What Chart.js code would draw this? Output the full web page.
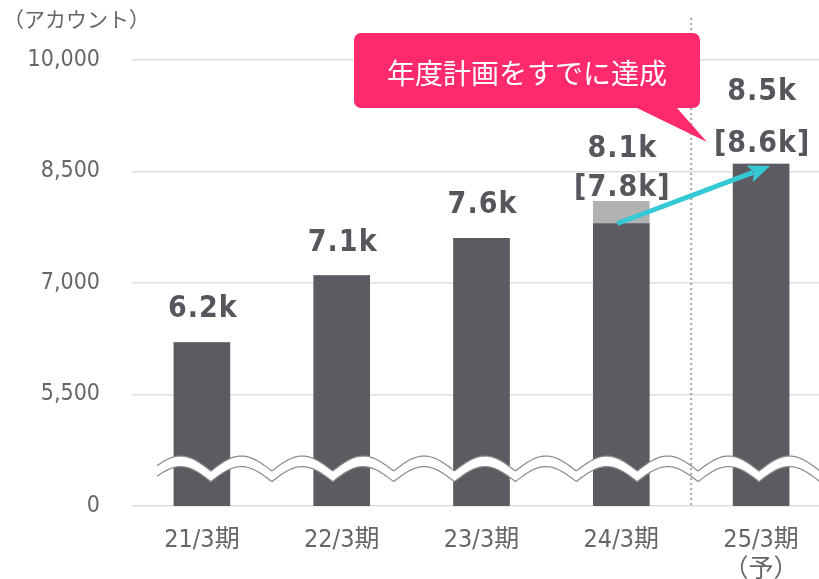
<!DOCTYPE html>
<html>
<head>
<meta charset="utf-8">
<script src="https://cdn.jsdelivr.net/npm/chart.js@4.4.0/dist/chart.umd.min.js"></script>
<style>
  html, body { margin: 0; padding: 0; background: #fff; overflow: hidden; }
  #wrap { width: 831px; height: 579px; }
</style>
</head>
<body>
<div id="wrap"><canvas id="chart"></canvas></div>
<script>
// data
var categories = [['21/3期'], ['22/3期'], ['23/3期'], ['24/3期'], ['25/3期', '（予）']];
var baseValues = [6200, 7100, 7600, 7800, 8600];
var extraValues = [0, 0, 0, 300, 0];
var topLabels = ['6.2k', '7.1k', '7.6k', '8.1k', '8.5k'];
var subLabels = [null, null, null, '[7.8k]', '[8.6k]'];
var yTicks = [4000, 5500, 7000, 8500, 10000];
var yTickLabels = ['0', '5,500', '7,000', '8,500', '10,000'];
var breakValue = 4500;

var NARROW = "'Liberation Sans Narrow', 'DejaVu Sans Condensed', 'Noto Sans CJK JP', sans-serif";
var JP = "'Noto Sans CJK JP', sans-serif";

var decorations = {
    id: 'decorations',
    afterDatasetsDraw: function (chart) {
        var ctx = chart.ctx, xs = chart.scales.x, ys = chart.scales.y, area = chart.chartArea;

        // wavy break band: sharp dips, round crests
        var mid = ys.getPixelForValue(breakValue);
        var amp = 7.5, period = 60.9, half = 5.3;
        var phase = xs.getPixelForValue(0) + 9;
        var x0 = 157, x1 = chart.width;
        function wy(px) {
            var t = (((px - phase) / period) % 1 + 1) % 1;
            var d = Math.min(t, 1 - t) * 2;
            return mid + amp * (1 - 2 * Math.sin(d * Math.PI / 2));
        }
        ctx.save();
        ctx.beginPath();
        for (var px = x0; px <= x1; px++) ctx.lineTo(px, wy(px) - half);
        for (px = x1; px >= x0; px--) ctx.lineTo(px, wy(px) + half);
        ctx.closePath();
        ctx.fillStyle = '#fff';
        ctx.fill();
        ctx.strokeStyle = '#8a8a8a';
        ctx.lineWidth = 1.2;
        ctx.beginPath();
        for (px = x0; px <= x1; px++) ctx.lineTo(px, wy(px) - half);
        ctx.stroke();
        ctx.beginPath();
        for (px = x0; px <= x1; px++) ctx.lineTo(px, wy(px) + half);
        ctx.stroke();

        // dotted divider before the forecast
        var dx = (xs.getPixelForValue(3) + xs.getPixelForValue(4)) / 2;
        ctx.setLineDash([2, 3]);
        ctx.strokeStyle = '#a5a5a5';
        ctx.lineWidth = 2;
        ctx.beginPath();
        ctx.moveTo(dx, 18);
        ctx.lineTo(dx, area.bottom);
        ctx.stroke();
        ctx.restore();
    },
    afterDraw: function (chart) {
        var ctx = chart.ctx, xs = chart.scales.x, ys = chart.scales.y;
        ctx.save();

        // unit label
        ctx.fillStyle = '#666';
        ctx.font = '21px ' + JP;
        ctx.textAlign = 'left';
        ctx.textBaseline = 'middle';
        ctx.fillText('（アカウント）', 3, 19);

        // value labels
        var subGap = [0, 0, 0, 5, 12];
        var lineGap = [25, 25, 25, 39, 52];
        ctx.fillStyle = '#58565c';
        ctx.font = 'bold 30px ' + NARROW;
        ctx.letterSpacing = '1px';
        ctx.textAlign = 'center';
        ctx.textBaseline = 'alphabetic';
        for (var i = 0; i < categories.length; i++) {
            var cx = xs.getPixelForValue(i) + 1;
            var top = ys.getPixelForValue(baseValues[i] + extraValues[i]);
            if (subLabels[i]) {
                var sb = top - subGap[i];
                ctx.fillText(subLabels[i], cx, sb);
                ctx.fillText(topLabels[i], cx, sb - lineGap[i]);
            } else {
                ctx.fillText(topLabels[i], cx, top - lineGap[i]);
            }
        }
        ctx.letterSpacing = '0px';

        // cyan arrow from this year's actual to next year's plan
        var ax = xs.getPixelForValue(3) - 4, ay = ys.getPixelForValue(baseValues[3]);
        var bx = xs.getPixelForValue(4) + 9, by = ys.getPixelForValue(baseValues[4]) + 2;
        var ang = Math.atan2(by - ay, bx - ax), hl = 22, hw = 9;
        var hx = bx - hl * Math.cos(ang), hy = by - hl * Math.sin(ang);
        ctx.strokeStyle = '#35c9d6';
        ctx.fillStyle = '#35c9d6';
        ctx.lineWidth = 5;
        ctx.beginPath();
        ctx.moveTo(ax, ay);
        ctx.lineTo(hx + 4 * Math.cos(ang), hy + 4 * Math.sin(ang));
        ctx.stroke();
        ctx.beginPath();
        ctx.moveTo(bx, by);
        ctx.lineTo(hx - hw * Math.sin(ang), hy + hw * Math.cos(ang));
        ctx.lineTo(hx + 5 * Math.cos(ang), hy + 5 * Math.sin(ang));
        ctx.lineTo(hx + hw * Math.sin(ang), hy - hw * Math.cos(ang));
        ctx.closePath();
        ctx.fill();

        // pink callout
        var L = 354, T = 33, R = 700, B = 108, r = 7;
        ctx.fillStyle = '#ff2a6d';
        ctx.beginPath();
        ctx.moveTo(L + r, T);
        ctx.arcTo(R, T, R, B, r);
        ctx.arcTo(R, B, L, B, r);
        ctx.lineTo(677, B);
        ctx.lineTo(707, 142);
        ctx.lineTo(637, B);
        ctx.arcTo(L, B, L, T, r);
        ctx.arcTo(L, T, R, T, r);
        ctx.closePath();
        ctx.fill();
        ctx.fillStyle = '#fff';
        ctx.font = '28px ' + JP;
        ctx.textAlign = 'center';
        ctx.textBaseline = 'middle';
        ctx.fillText('年度計画をすでに達成', (L + R) / 2, 73);

        ctx.restore();
    }
};

var ctx = document.getElementById('chart').getContext('2d');
var chart = new Chart(ctx, {
    type: 'bar',
    data: {
        labels: categories,
        datasets: [{
            data: baseValues,
            backgroundColor: '#5d5a62',
            barThickness: 56
        }, {
            data: extraValues,
            backgroundColor: '#b2b2b2',
            barThickness: 56
        }]
    },
    options: {
        responsive: true,
        maintainAspectRatio: false,
        animation: false,
        layout: { padding: { top: 60, right: 0, bottom: 0, left: 0 } },
        plugins: {
            legend: { display: false },
            tooltip: { enabled: false }
        },
        scales: {
            x: {
                stacked: true,
                grid: { display: false },
                border: { display: false },
                ticks: {
                    color: '#666',
                    padding: 11,
                    font: { family: NARROW, size: 25, lineHeight: 1.2 },
                    maxRotation: 0
                },
                afterFit: function (s) { s.height = 73; }
            },
            y: {
                stacked: true,
                min: 4000,
                max: 10000,
                border: { display: false },
                grid: { color: '#dedede', lineWidth: 1.5, drawTicks: false },
                afterBuildTicks: function (s) {
                    s.ticks = yTicks.map(function (v) { return { value: v }; });
                },
                ticks: {
                    color: '#666',
                    padding: 32,
                    font: { family: NARROW, size: 23 },
                    callback: function (v, i) { return yTickLabels[i]; }
                },
                afterFit: function (s) { s.width = 132; }
            }
        }
    },
    plugins: [decorations]
});
</script>
</body>
</html>
